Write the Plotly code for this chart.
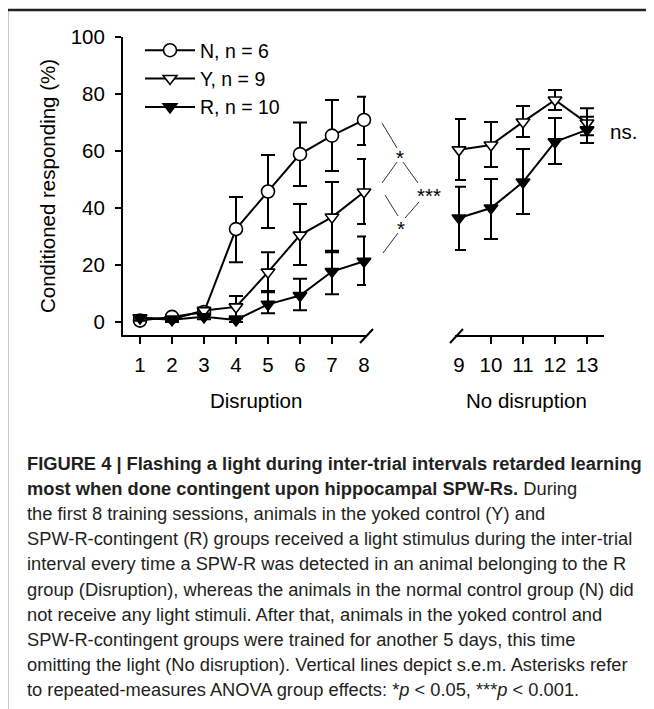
import plotly.graph_objects as go

# ---------------- data ----------------
sessions_disruption = [1, 2, 3, 4, 5, 6, 7, 8]
sessions_no_disruption = [9, 10, 11, 12, 13]

n_mean = [0.5, 1.8, 3.5, 32.6, 45.8, 58.9, 65.4, 70.9]
n_upper = [1.5, 2.5, 4.5, 43.9, 58.6, 70.0, 77.9, 79.0]
n_lower = [0.0, 1.0, 2.5, 21.0, 33.0, 47.7, 53.0, 62.1]

y_mean = [1.5, 1.0, 4.0, 5.3, 17.5, 30.5, 36.8, 45.6]
y_upper = [2.5, 1.5, 5.0, 9.1, 24.5, 41.4, 49.1, 57.2]
y_lower = [0.5, 0.5, 3.0, 2.0, 10.9, 20.0, 24.5, 34.4]
y2_mean = [60.4, 62.1, 70.2, 77.9, 69.8]
y2_upper = [71.2, 70.2, 75.8, 81.4, 75.0]
y2_lower = [49.8, 54.4, 64.9, 74.4, 65.5]

r_mean = [1.5, 0.8, 1.8, 0.7, 6.2, 9.3, 17.7, 21.3]
r_upper = [2.5, 1.5, 2.5, 1.2, 10.4, 15.2, 25.0, 30.0]
r_lower = [0.5, 0.0, 1.0, 0.0, 3.1, 4.1, 9.7, 13.0]
r2_mean = [36.5, 40.0, 49.1, 63.2, 67.4]
r2_upper = [47.5, 50.2, 60.7, 71.6, 72.0]
r2_lower = [25.3, 29.1, 37.9, 55.4, 62.8]

legend_names = ["N, n = 6", "Y, n = 9", "R, n = 10"]
y_ticks = [0, 20, 40, 60, 80, 100]

caption_lines = [
    "<b>FIGURE 4 | Flashing a light during inter-trial intervals retarded learning</b>",
    "<b>most when done contingent upon hippocampal SPW-Rs.</b> During",
    "the first 8 training sessions, animals in the yoked control (Y) and",
    "SPW-R-contingent (R) groups received a light stimulus during the inter-trial",
    "interval every time a SPW-R was detected in an animal belonging to the R",
    "group (Disruption), whereas the animals in the normal control group (N) did",
    "not receive any light stimuli. After that, animals in the yoked control and",
    "SPW-R-contingent groups were trained for another 5 days, this time",
    "omitting the light (No disruption). Vertical lines depict s.e.m. Asterisks refer",
    "to repeated-measures ANOVA group effects: *<i>p</i> &lt; 0.05, ***<i>p</i> &lt; 0.001.",
]

# ---------------- layout geometry ----------------
# reference-picture pixel positions; the page body adds an 8 px margin
BODY = 8
W, H = 654 - BODY, 709 - BODY
PL, PR, PT, PB = 123, 604, 37, 335   # plot area in reference pixels
LEFT_END = 366
RIGHT_START = 455


def px(x):
    return (x - PL) / (PR - PL)


def py(y):
    return (PB - y) / (PB - PT)


FONT = "Liberation Sans, Arial, sans-serif"
FS = 20.5


def err(mean, upper, lower):
    return dict(
        type="data", symmetric=False,
        array=[u - m for m, u in zip(mean, upper)],
        arrayminus=[m - l for m, l in zip(mean, lower)],
        color="black", thickness=2, width=7,
    )


line_style = dict(color="black", width=2)
styles = {
    "N": dict(symbol="circle", size=13, color="white", line=dict(color="black", width=1.6)),
    "Y": dict(symbol="triangle-down", size=12, color="white", line=dict(color="black", width=1.6)),
    "R": dict(symbol="triangle-down", size=12, color="black", line=dict(color="black", width=1.6)),
}

fig = go.Figure()

fig.add_trace(go.Scatter(x=sessions_disruption, y=n_mean, mode="lines+markers", name=legend_names[0],
                         legendgroup="N", line=line_style, marker=styles["N"],
                         error_y=err(n_mean, n_upper, n_lower), cliponaxis=False))
fig.add_trace(go.Scatter(x=sessions_disruption, y=y_mean, mode="lines+markers", name=legend_names[1],
                         legendgroup="Y", line=line_style, marker=styles["Y"],
                         error_y=err(y_mean, y_upper, y_lower), cliponaxis=False))
fig.add_trace(go.Scatter(x=sessions_no_disruption, y=y2_mean, mode="lines+markers", name=legend_names[1],
                         legendgroup="Y", showlegend=False, line=line_style, marker=styles["Y"],
                         error_y=err(y2_mean, y2_upper, y2_lower), cliponaxis=False,
                         xaxis="x2", yaxis="y"))
fig.add_trace(go.Scatter(x=sessions_disruption, y=r_mean, mode="lines+markers", name=legend_names[2],
                         legendgroup="R", line=line_style, marker=styles["R"],
                         error_y=err(r_mean, r_upper, r_lower), cliponaxis=False))
fig.add_trace(go.Scatter(x=sessions_no_disruption, y=r2_mean, mode="lines+markers", name=legend_names[2],
                         legendgroup="R", showlegend=False, line=line_style, marker=styles["R"],
                         error_y=err(r2_mean, r2_upper, r2_lower), cliponaxis=False,
                         xaxis="x2", yaxis="y"))

# invisible carriers for the tick-only overlay axes
fig.add_trace(go.Scatter(x=sessions_disruption[:-1], y=[None] * 7, mode="lines", showlegend=False,
                         hoverinfo="skip", xaxis="x3", yaxis="y"))
fig.add_trace(go.Scatter(x=sessions_no_disruption[1:], y=[None] * 4, mode="lines", showlegend=False,
                         hoverinfo="skip", xaxis="x4", yaxis="y"))

x_left_range = [1 - (140 - PL) / 32, 1 + (LEFT_END - 140) / 32]
x_right_range = [9 - (459 - RIGHT_START) / 32, 9 + (PR - 459) / 32]

axis_common = dict(showgrid=False, zeroline=False, color="black",
                   tickfont=dict(family=FONT, size=FS, color="black"))

fig.update_layout(
    width=W, height=H,
    margin=dict(l=PL - BODY, r=W - (PR - BODY), t=PT - BODY, b=H - (PB - BODY), autoexpand=False),
    paper_bgcolor="white", plot_bgcolor="white",
    font=dict(family=FONT, size=FS, color="black"),
    showlegend=True,
    legend=dict(x=px(140), y=py(31), xanchor="left", yanchor="top",
                font=dict(family=FONT, size=19.5, color="black"),
                bgcolor="rgba(0,0,0,0)", itemwidth=50, tracegroupgap=0,
                traceorder="normal"),
    xaxis=dict(domain=[0, px(LEFT_END)], range=x_left_range, anchor="y",
               showline=True, linewidth=2, linecolor="black",
               tickmode="array", tickvals=sessions_disruption,
               ticktext=[str(s) for s in sessions_disruption],
               ticks="", ticklabelstandoff=10, **axis_common),
    xaxis2=dict(domain=[px(RIGHT_START), 1], range=x_right_range, anchor="y",
                showline=True, linewidth=2, linecolor="black",
                tickmode="array", tickvals=sessions_no_disruption,
                ticktext=[str(s) for s in sessions_no_disruption],
                ticks="", ticklabelstandoff=10, **axis_common),
    xaxis3=dict(overlaying="x", range=x_left_range, anchor="y", side="bottom",
                showline=False, showticklabels=False, tickmode="array",
                tickvals=sessions_disruption[:-1], ticks="outside", ticklen=8,
                tickwidth=2, tickcolor="black", showgrid=False, zeroline=False),
    xaxis4=dict(overlaying="x2", range=x_right_range, anchor="y", side="bottom",
                showline=False, showticklabels=False, tickmode="array",
                tickvals=sessions_no_disruption[1:], ticks="outside", ticklen=8,
                tickwidth=2, tickcolor="black", showgrid=False, zeroline=False),
    yaxis=dict(domain=[0, 1], range=[-(PB - 322) / 2.85, 100], anchor="x",
               showline=True, linewidth=2, linecolor="black",
               tickmode="array", tickvals=y_ticks, ticks="outside", ticklen=6,
               tickwidth=2, ticklabelstandoff=6,
               title=dict(text="Conditioned responding (%)", standoff=10,
                          font=dict(family=FONT, size=FS, color="black")),
               **axis_common),
)

shapes = []
# axis break marks
for x0, y0, x1, y1 in [(360, 343, 373, 329), (450, 343, 463, 329)]:
    shapes.append(dict(type="line", xref="paper", yref="paper", x0=px(x0), y0=py(y0),
                       x1=px(x1), y1=py(y1), line=dict(color="black", width=2)))
# significance brackets
for x0, y0, x1, y1 in [(382, 123, 397, 148), (397, 162, 382, 183), (403, 162, 418, 183),
                       (385, 195, 398, 216), (398, 233, 383, 253), (419, 202, 405, 218)]:
    shapes.append(dict(type="line", xref="paper", yref="paper", x0=px(x0), y0=py(y0),
                       x1=px(x1), y1=py(y1), line=dict(color="#333333", width=1)))
# outer frame
shapes.append(dict(type="rect", xref="paper", yref="paper", x0=px(7), y0=py(10),
                   x1=px(648), y1=py(760), line=dict(color="#222222", width=2.5),
                   fillcolor="rgba(0,0,0,0)"))
fig.update_layout(shapes=shapes)

ann = []


def add_text(text, x, y, size=FS, xanchor="center", family=FONT, color="black"):
    ann.append(dict(text=text, xref="paper", yref="paper", x=px(x), y=py(y),
                    xanchor=xanchor, yanchor="middle", showarrow=False,
                    font=dict(family=family, size=size, color=color)))


add_text("*", 400, 157)
add_text("***", 429, 195)
add_text("*", 401, 228)
add_text("ns.", 608, 131, xanchor="left")
add_text("Disruption", 256, 400)
add_text("No disruption", 526, 400)

for i, line in enumerate(caption_lines):
    add_text(line, 25, 463 + i * 25.2, size=18.3, xanchor="left", color="#231f20")

fig.update_layout(annotations=ann)

fig.write_html("out.html")
